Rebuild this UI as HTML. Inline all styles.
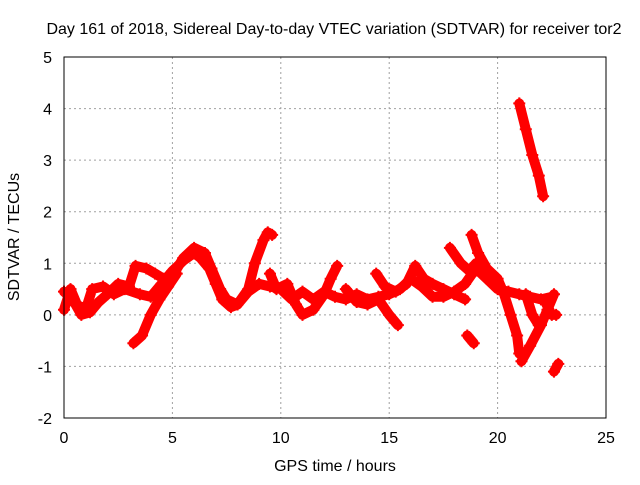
<!DOCTYPE html>
<html><head><meta charset="utf-8"><style>
body{margin:0;background:#fff;width:640px;height:480px;overflow:hidden}
svg text{font-family:"Liberation Sans",sans-serif;font-size:16px;fill:#000}
</style></head><body>
<svg id="chart" width="640" height="480">
<text x="334" y="34" text-anchor="middle">Day 161 of 2018, Sidereal Day-to-day VTEC variation (SDTVAR) for receiver tor2</text>
<text x="335" y="471" text-anchor="middle">GPS time / hours</text>
<text transform="translate(19,237) rotate(-90)" text-anchor="middle">SDTVAR / TECUs</text>
<g id="grid"></g><g id="marks"></g><g id="axes"></g>
</svg>
<script>
const xTicks=[0,5,10,15,20,25];
const yTicks=[-2,-1,0,1,2,3,4,5];
const trackA=[[0,0.1],[0.3,0.5],[0.6,0.2],[1,0.1],[1.3,0.5],[1.8,0.55],[2.3,0.4],[2.8,0.5],[3.5,0.4],[4,0.35],[4.5,0.6],[5,0.85],[5.5,1.05],[6,1.2],[6.3,1.1],[6.7,0.9],[7,0.6],[7.3,0.3],[7.7,0.15],[8,0.2],[8.5,0.45],[9,0.6],[9.5,0.55],[10,0.5],[10.5,0.3],[11,0.45],[11.5,0.3],[12,0.45],[12.5,0.35],[13,0.3],[13.5,0.4],[14,0.3],[14.5,0.35],[15,0.4],[15.5,0.5],[16,0.7],[16.5,0.55],[17,0.35],[17.5,0.35],[18,0.45],[18.5,0.6],[19,0.9],[19.5,0.7],[20,0.5],[20.5,0.45],[21,0.4],[21.5,0.35],[22,0.3],[22.5,0.35]];
const trackB=[[0,0.45],[0.4,0.3],[0.8,0.0],[1.2,0.05],[1.6,0.25],[2,0.4],[2.5,0.6],[3,0.55],[3.3,0.95],[3.8,0.9],[4.2,0.8],[4.6,0.7],[5,0.75],[5.5,1.1],[6,1.3],[6.5,1.2],[6.8,0.9],[7.2,0.5],[7.5,0.3],[8,0.2],[8.5,0.5],[8.8,1.0],[9.2,1.45],[9.4,1.6],[9.6,1.55]];
const trackC=[[3.2,-0.55],[3.6,-0.4],[4,0],[4.4,0.3],[4.8,0.55],[5.2,0.8]];
const trackD=[[9.5,0.8],[9.8,0.5],[10.3,0.6],[10.7,0.2],[11,0.0],[11.5,0.1],[12,0.4],[12.3,0.7],[12.6,0.95]];
const trackE=[[13,0.5],[13.5,0.25],[14,0.2],[14.5,0.3],[15,0.0],[15.4,-0.2]];
const trackF=[[14.4,0.8],[14.8,0.55],[15.3,0.45],[15.8,0.6],[16.2,0.95],[16.6,0.7],[17,0.6],[17.5,0.5],[18,0.4],[18.5,0.3]];
const trackG=[[17.8,1.3],[18.3,1.0],[18.7,0.85],[19,1.0]];
const trackH=[[18.8,1.55],[19.1,1.2],[19.5,0.9],[20,0.7],[20.3,0.4],[20.6,0.0],[20.9,-0.4],[21,-0.75]];
const trackI=[[21.1,-0.9],[21.5,-0.6],[22,-0.2],[22.3,0.1],[22.6,0.4]];
const trackJ=[[21.3,0.4],[21.6,0.0],[21.9,-0.2]];
const trackK=[[21,4.1],[21.3,3.6],[21.6,3.1],[21.9,2.7],[22.1,2.3]];
const trackL=[[18.6,-0.4],[18.9,-0.55]];
const trackM=[[22.6,-1.1],[22.8,-0.95]];
const trackN=[[22.2,0.25],[22.5,0.0],[22.7,0.0]];
const tracks=[trackA,trackB,trackC,trackD,trackE,trackF,trackG,trackH,trackI,trackJ,trackK,trackL,trackM,trackN];
const NS='http://www.w3.org/2000/svg';
const X0=64,X1=606,Y0=418,Y1=57;
const xs=h=>X0+(h-0)/(25-0)*(X1-X0);
const ys=v=>Y0-(v+2)/7*(Y0-Y1);
function mk(tag,attrs,parent){const e=document.createElementNS(NS,tag);for(const k in attrs)e.setAttribute(k,attrs[k]);parent.appendChild(e);return e;}
const grid=document.getElementById('grid'),marks=document.getElementById('marks'),axes=document.getElementById('axes');
xTicks.forEach(t=>{
 if(t>0&&t<25){const l=mk('line',{x1:xs(t),x2:xs(t),y1:Y1,y2:Y0,stroke:'#a0a0a0','stroke-dasharray':'2,3'},grid);
 
 }
 const tx=mk('text',{x:xs(t),y:Y0+25,'text-anchor':'middle'},axes);tx.textContent=t;
 
 
});
yTicks.forEach(t=>{
 if(t>-2&&t<5){const l=mk('line',{x1:X0,x2:X1,y1:ys(t),y2:ys(t),stroke:'#a0a0a0','stroke-dasharray':'2,3'},grid);
 
 }
 const tx=mk('text',{x:X0-12,y:ys(t)+6,'text-anchor':'end'},axes);tx.textContent=t;
 
 
});
const fr=mk('rect',{x:X0,y:Y1,width:X1-X0,height:Y0-Y1,fill:'none',stroke:'#000','stroke-width':1},axes);


tracks.forEach(tr=>{
 const pl=mk('polyline',{points:tr.map(p=>xs(p[0])+','+ys(p[1])).join(' '),fill:'none',stroke:'#ff0000','stroke-width':10,'stroke-linejoin':'round','stroke-linecap':'round'},marks);
 
 
 tr.forEach(p=>{const x=xs(p[0]),y=ys(p[1]);
  const m=mk('path',{d:`M${x-6},${y}h12M${x},${y-6}v12`,stroke:'#ff0000','stroke-width':2},marks);
  
  });
});
</script>
</body></html>
